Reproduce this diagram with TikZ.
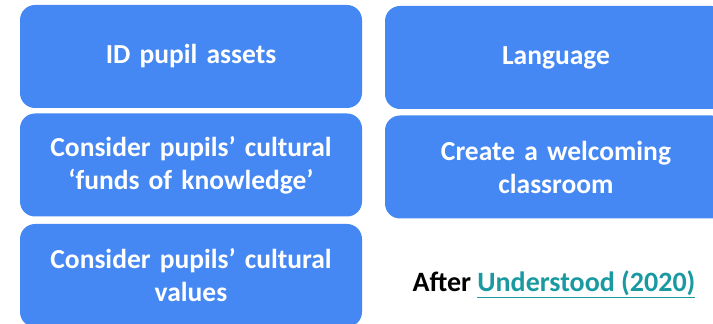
\documentclass[tikz,border=0pt]{standalone}
\usepackage{fontspec}
\setmainfont{Carlito}
\definecolor{ellBlue}{HTML}{4588F4}
\definecolor{ellTeal}{HTML}{1A9AA0}
\usepackage{tikz}
\usetikzlibrary{positioning}
\tikzset{
	idea/.style={
		fill=ellBlue,
		rounded corners=15pt,
		minimum width=342pt,
		minimum height=103pt,
		inner sep=0pt,
		text width=330pt,
		align=center,
		text=white,
		font=\fontsize{27.5}{33}\selectfont\bfseries
	},
	fuente/.style={
		anchor=base,
		inner sep=0pt,
		font=\fontsize{28}{32}\selectfont\bfseries
	}
}
\begin{document}
\begin{tikzpicture}[x=1pt, y=1pt]
		\clip (0,0) rectangle (713,324);
		\useasboundingbox (0,0) rectangle (713,324);
		% columna izquierda
		\node[idea] (activos) at (191,267.5) {ID pupil assets};
		\node[idea] (fondos) at (191,159) {Consider pupils’ cultural\\‘funds of knowledge’};
		\node[idea] (valores) at (191,48.5) {Consider pupils’ cultural\\values};
		% columna derecha
		\node[idea] (lengua) at (556,266.5) {Language};
		\node[idea] (aula) at (556,157) {Create a welcoming\\classroom};
		\node[fuente] (cita) at (554,32) {After \textcolor{ellTeal}{\underline{Understood (2020)}}};
	\end{tikzpicture}
\end{document}
